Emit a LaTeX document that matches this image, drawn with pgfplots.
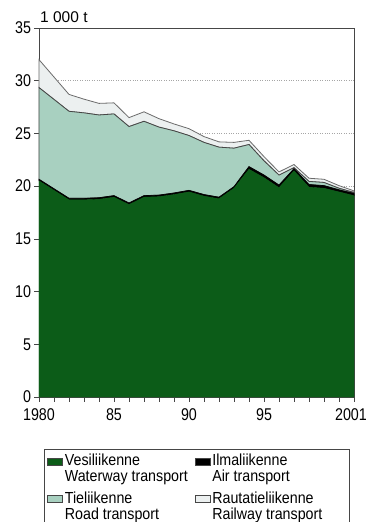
\documentclass[border=0pt]{standalone}
\usepackage{fontspec}
\setmainfont{Liberation Sans}
\newfontfamily\legendfont{Liberation Sans}[FakeStretch=0.89]
\newfontfamily\tickfont{Liberation Sans}[FakeStretch=0.84]
\usepackage{pgfplots}
\pgfplotsset{compat=1.18}
\definecolor{water}{RGB}{12,92,24}
\definecolor{road}{RGB}{168,208,192}
\definecolor{rail}{RGB}{236,240,240}
\definecolor{edge}{RGB}{70,70,70}
\begin{document}
\begin{tikzpicture}
\begin{axis}[
  scale only axis, width=315pt, height=369pt,
  at={(0,0)}, anchor=south west,
  xmin=1980, xmax=2001, ymin=0, ymax=35,
  stack plots=y,
  axis line style={edge, line width=0.8pt},
  xtick={1980,1985,1990,1995,2001},
  xticklabels={1980,85,90,95,2001\hspace*{6pt}},
  minor xtick={1981,...,2000},
  ytick={0,5,...,35},
  xtick pos=bottom, ytick pos=left,
  tick align=outside,
  major tick length=4.5pt, minor tick length=4.5pt,
  tick style={edge, line width=0.7pt},
  minor tick style={edge, line width=0.7pt},
  ymajorgrids,
  major grid style={black!35, dotted, line width=0.8pt},
  /pgf/number format/assume math mode=true,
  /pgf/number format/1000 sep={},
  ticklabel style={font=\tickfont\fontsize{17}{18}\selectfont},
  xticklabel style={yshift=-3.5pt},
  legend columns=2,
  legend style={
    at={(axis description cs:0.016,-0.141)}, anchor=north west,
    draw=edge, line width=0.7pt, fill=white,
    font=\legendfont\fontsize{16}{16}\selectfont,
    cells={anchor=west, align=left},
    inner xsep=3pt, inner ysep=3pt,
    row sep=4pt,
    /tikz/every even column/.append style={column sep=5pt},
  },
  legend image code/.code={\draw[#1,draw=edge,line width=0.5pt] (0pt,4pt) rectangle (15pt,11pt);},
  clip=false,
]
% Vesiliikenne / Waterway transport
\addplot[fill=water, draw=water] coordinates {
(1980,20.5) (1982,18.7) (1983,18.7) (1984,18.75) (1985,18.95) (1986,18.25)
(1987,18.95) (1988,19.0) (1989,19.2) (1990,19.45) (1991,19.05) (1992,18.8)
(1993,19.8) (1994,21.6) (1995,20.8) (1996,19.85) (1997,21.45) (1998,19.9)
(1999,19.8) (2000,19.45) (2001,19.1)} \closedcycle;
\addlegendentry{Vesiliikenne\\Waterway transport}
% Ilmaliikenne / Air transport
\addplot[fill=black, draw=black, line width=0.6pt] coordinates {
(1980,0.15) (1982,0.15) (1983,0.15) (1984,0.15) (1985,0.15) (1986,0.15)
(1987,0.15) (1988,0.15) (1989,0.15) (1990,0.15) (1991,0.15) (1992,0.15)
(1993,0.15) (1994,0.25) (1995,0.25) (1996,0.25) (1997,0.2) (1998,0.25)
(1999,0.25) (2000,0.2) (2001,0.2)} \closedcycle;
\addlegendentry{Ilmaliikenne\\Air transport}
% Tieliikenne / Road transport
\addplot[fill=road, draw=edge, line width=0.8pt] coordinates {
(1980,8.7) (1982,8.25) (1983,8.1) (1984,7.85) (1985,7.75) (1986,7.25)
(1987,7.05) (1988,6.45) (1989,5.9) (1990,5.2) (1991,4.95) (1992,4.75)
(1993,3.65) (1994,2.1) (1995,1.35) (1996,0.95) (1997,0.1) (1998,0.3)
(1999,0.3) (2000,0.15) (2001,0.1)} \closedcycle;
\addlegendentry{Tieliikenne\\Road transport}
% Rautatieliikenne / Railway transport
\addplot[fill=rail, draw=edge!80, line width=0.8pt] coordinates {
(1980,2.65) (1982,1.6) (1983,1.3) (1984,1.1) (1985,1.05) (1986,0.85)
(1987,0.9) (1988,0.8) (1989,0.65) (1990,0.65) (1991,0.55) (1992,0.5)
(1993,0.55) (1994,0.4) (1995,0.4) (1996,0.3) (1997,0.3) (1998,0.3)
(1999,0.3) (2000,0.25) (2001,0.15)} \closedcycle;
\addlegendentry{Rautatieliikenne\\Railway transport\hspace*{22pt}}
\node[anchor=base west, inner sep=0pt, font=\fontsize{15.5}{16}\selectfont]
  at ([xshift=1pt,yshift=6pt]rel axis cs:0,1) {1 000 t};
\end{axis}
\pgfresetboundingbox
\path[use as bounding box] (-39pt,-125pt) rectangle (331pt,397pt);
\end{tikzpicture}
\end{document}
